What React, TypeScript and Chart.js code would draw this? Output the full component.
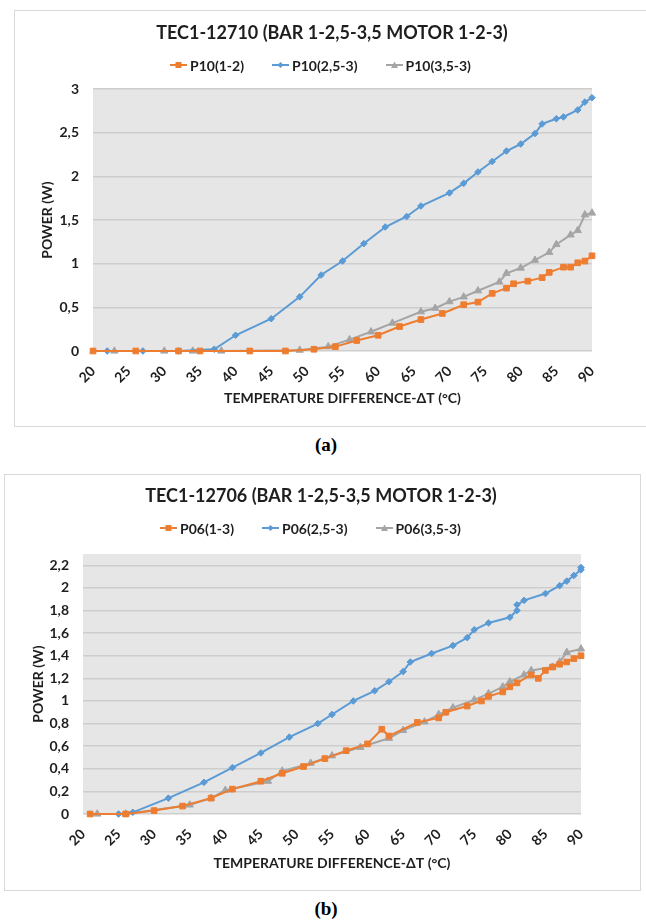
import React, { useEffect, useRef } from 'react';
import { Chart, registerables } from 'chart.js';

Chart.register(...registerables);

// ---------------- Data: chart (a) TEC1-12710 ----------------
const titleA = 'TEC1-12710 (BAR 1-2,5-3,5 MOTOR 1-2-3)';
const labelsA = ['P10(1-2)', 'P10(2,5-3)', 'P10(3,5-3)'];

const tempA1 = [20, 26, 32, 35, 42, 47, 51, 54, 57, 60, 63, 66, 69, 72, 74, 76, 78, 79, 81, 83, 84, 86, 87, 88, 89, 90];
const powA1 = [0, 0, 0, 0, 0, 0, 0.02, 0.05, 0.12, 0.18, 0.28, 0.36, 0.43, 0.53, 0.56, 0.66, 0.72, 0.77, 0.8, 0.84, 0.9, 0.96, 0.96, 1.01, 1.03, 1.09];

const tempA2 = [22, 27, 32, 37, 40, 45, 49, 52, 55, 58, 61, 64, 66, 70, 72, 74, 76, 78, 80, 82, 83, 85, 86, 88, 89, 90];
const powA2 = [0, 0, 0, 0.02, 0.18, 0.37, 0.62, 0.87, 1.03, 1.23, 1.42, 1.54, 1.66, 1.81, 1.92, 2.05, 2.17, 2.29, 2.37, 2.49, 2.6, 2.66, 2.68, 2.76, 2.85, 2.9];

const tempA3 = [23, 30, 34, 38, 49, 53, 56, 59, 62, 66, 68, 70, 72, 74, 77, 78, 80, 82, 84, 85, 87, 88, 89, 90];
const powA3 = [0, 0, 0, 0, 0.01, 0.05, 0.13, 0.22, 0.32, 0.45, 0.49, 0.565, 0.62, 0.69, 0.79, 0.89, 0.95, 1.04, 1.13, 1.22, 1.33, 1.38, 1.56, 1.58];

// ---------------- Data: chart (b) TEC1-12706 ----------------
const titleB = 'TEC1-12706 (BAR 1-2,5-3,5 MOTOR 1-2-3)';
const labelsB = ['P06(1-3)', 'P06(2,5-3)', 'P06(3,5-3)'];

const tempB1 = [21, 26, 30, 34, 38, 41, 45, 48, 51, 54, 57, 60, 62, 63, 67, 70, 71, 74, 76, 77, 79, 80, 81, 83, 84, 85, 86, 87, 88, 89, 90];
const powB1 = [0, 0, 0.03, 0.07, 0.14, 0.22, 0.29, 0.36, 0.42, 0.49, 0.56, 0.62, 0.75, 0.69, 0.81, 0.85, 0.9, 0.955, 1.0, 1.04, 1.08, 1.125, 1.16, 1.23, 1.2, 1.27, 1.3, 1.325, 1.345, 1.375, 1.4];

const tempB2 = [25, 27, 32, 37, 41, 45, 49, 53, 55, 58, 61, 63, 65, 66, 69, 72, 74, 75, 77, 80, 81, 81, 82, 85, 87, 88, 89, 90, 90];
const powB2 = [0, 0.015, 0.14, 0.28, 0.41, 0.54, 0.68, 0.8, 0.88, 1.0, 1.09, 1.17, 1.26, 1.345, 1.42, 1.49, 1.56, 1.63, 1.69, 1.74, 1.8, 1.85, 1.89, 1.95, 2.02, 2.06, 2.11, 2.16, 2.18];

const tempB3 = [22, 26, 35, 38, 40, 46, 48, 52, 55, 59, 63, 65, 68, 70, 72, 75, 77, 79, 80, 82, 83, 86, 87, 88, 90];
const powB3 = [0, 0, 0.08, 0.14, 0.21, 0.29, 0.38, 0.45, 0.515, 0.59, 0.67, 0.74, 0.815, 0.88, 0.94, 1.01, 1.065, 1.125, 1.17, 1.23, 1.27, 1.3, 1.345, 1.43, 1.46];

// ---------------- Axes ----------------
const xTitle = 'TEMPERATURE DIFFERENCE-ΔT (°C)';
const yTitle = 'POWER (W)';
const xMin = 20;
const xMax = 90;
const xStep = 5;
const yMaxA = 3;
const yStepA = 0.5;
const yMaxB = 2.3;
const yStepB = 0.2;

// ---------------- Styles ----------------
const FONT = "Lato, 'Open Sans', sans-serif";
const TEXT = '#1e1e1e';
const COLORS = ['#ED7D31', '#5B9BD5', '#A5A5A5'];
const MARKERS = ['rect', 'rectRot', 'triangle'];
const RADII = [4, 3.3, 4.2];

function buildDatasets(labels: string[], xs: number[][], ys: number[][]) {
  return labels.map((label, i) => ({
    label,
    data: xs[i].map((x, j) => ({ x, y: ys[i][j] })),
    borderColor: COLORS[i],
    backgroundColor: COLORS[i],
    borderWidth: 2,
    pointStyle: MARKERS[i],
    pointRadius: RADII[i],
    pointBorderWidth: 1,
    pointBorderColor: COLORS[i],
    pointBackgroundColor: COLORS[i],
    tension: 0,
    fill: false,
    clip: false,
  }));
}

const plotBg = {
  id: 'plotBg',
  beforeDraw(chart: any) {
    const { ctx, chartArea } = chart;
    if (!chartArea) return;
    ctx.save();
    ctx.fillStyle = '#e6e6e6';
    ctx.fillRect(chartArea.left, chartArea.top, chartArea.right - chartArea.left, chartArea.bottom - chartArea.top);
    ctx.restore();
  },
};

const fmt = (v: number) => String(Math.round(v * 10) / 10).replace('.', ',');

type PanelCfg = {
  left: number; top: number; w: number; h: number;
  padRight: number; padTop: number;
  xH: number; xTitleBottom: number; yTitleTop: number;
  yMax: number; yStep: number;
  title: string; titleCx: number; titleCy: number;
  labels: string[]; xs: number[][]; ys: number[][];
  legendLeft: number; legendCy: number;
};

function LegendIcon({ i }: { i: number }) {
  const c = COLORS[i];
  let marker: React.ReactNode;
  if (i === 0) marker = <rect x={5.5} y={2} width={6} height={6} fill={c} />;
  else if (i === 1) marker = <polygon points="8.5,2 11.5,5 8.5,8 5.5,5" fill={c} />;
  else marker = <polygon points="8.5,1.5 12,8 5,8" fill={c} />;
  return (
    <svg width={17} height={10} style={{ display: 'block' }}>
      <line x1={0} y1={5} x2={17} y2={5} stroke={c} strokeWidth={2} />
      {marker}
    </svg>
  );
}

function Panel({ cfg }: { cfg: PanelCfg }) {
  const ref = useRef<HTMLCanvasElement>(null);
  useEffect(() => {
    const chart = new Chart(ref.current as HTMLCanvasElement, {
      type: 'line',
      data: { datasets: buildDatasets(cfg.labels, cfg.xs, cfg.ys) as any },
      options: {
        responsive: false,
        animation: false,
        layout: { padding: { top: cfg.padTop, left: 0, right: cfg.padRight, bottom: 0 } },
        plugins: {
          legend: { display: false },
          tooltip: { enabled: false },
          title: { display: false },
        },
        scales: {
          x: {
            type: 'linear',
            min: xMin,
            max: xMax,
            ticks: {
              stepSize: xStep,
              autoSkip: false,
              maxRotation: 45,
              minRotation: 45,
              color: TEXT,
              font: { family: FONT, size: 14, weight: 'bold' },
              padding: 4,
            },
            grid: { display: false },
            border: { display: false },
            title: {
              display: true,
              text: xTitle,
              color: TEXT,
              font: { family: FONT, size: 14, weight: 'bold' },
              padding: { top: 0, bottom: cfg.xTitleBottom },
            },
            afterFit: (s: any) => { s.height = cfg.xH; },
          },
          y: {
            min: 0,
            max: cfg.yMax,
            ticks: {
              stepSize: cfg.yStep,
              includeBounds: false,
              color: TEXT,
              font: { family: FONT, size: 14, weight: 'bold' },
              padding: 14,
              callback: (v: any) => fmt(Number(v)),
            },
            grid: { color: '#cdcdcd', lineWidth: 1.5, drawTicks: false },
            border: { display: false },
            title: {
              display: true,
              text: yTitle,
              color: TEXT,
              font: { family: FONT, size: 14, weight: 'bold' },
              padding: { top: cfg.yTitleTop, bottom: 0 },
            },
            afterFit: (s: any) => { s.width = 78; },
          },
        },
      } as any,
      plugins: [plotBg],
    });
    return () => chart.destroy();
  }, []);

  return (
    <div
      style={{
        position: 'absolute', left: cfg.left, top: cfg.top, width: cfg.w, height: cfg.h,
        border: '1px solid #d9d9d9', boxSizing: 'border-box', background: '#fff',
      }}
    >
      <canvas
        ref={ref}
        width={cfg.w - 2}
        height={cfg.h - 2}
        style={{ position: 'absolute', left: 0, top: 0, width: cfg.w - 2, height: cfg.h - 2 }}
      />
      <div
        style={{
          position: 'absolute', left: cfg.titleCx - 300, width: 600, top: cfg.titleCy - 12, height: 24,
          lineHeight: '24px', textAlign: 'center', whiteSpace: 'nowrap',
          fontFamily: FONT, fontWeight: 700, fontSize: 18, color: TEXT,
        }}
      >
        {cfg.title}
      </div>
      <div
        style={{
          position: 'absolute', left: cfg.legendLeft, top: cfg.legendCy - 10, height: 20,
          display: 'flex', alignItems: 'center', whiteSpace: 'nowrap',
          fontFamily: FONT, fontWeight: 700, fontSize: 14, color: TEXT,
        }}
      >
        {cfg.labels.map((l, i) => (
          <div key={l} style={{ display: 'flex', alignItems: 'center', marginRight: 28 }}>
            <LegendIcon i={i} />
            <span style={{ marginLeft: 3 }}>{l}</span>
          </div>
        ))}
      </div>
    </div>
  );
}

const cfgA: PanelCfg = {
  left: 14, top: 10, w: 642, h: 417,
  padRight: 63, padTop: 78,
  xH: 75, xTitleBottom: 19.6, yTitleTop: 23.6,
  yMax: yMaxA, yStep: yStepA,
  title: titleA, titleCx: 317, titleCy: 21,
  labels: labelsA,
  xs: [tempA1, tempA2, tempA3], ys: [powA1, powA2, powA3],
  legendLeft: 155, legendCy: 54,
};

const cfgB: PanelCfg = {
  left: 4, top: 474, w: 637, h: 417,
  padRight: 59, padTop: 79,
  xH: 76, xTitleBottom: 18.6, yTitleTop: 24.6,
  yMax: yMaxB, yStep: yStepB,
  title: titleB, titleCx: 316, titleCy: 20,
  labels: labelsB,
  xs: [tempB1, tempB2, tempB3], ys: [powB1, powB2, powB3],
  legendLeft: 155, legendCy: 53,
};

const captionStyle: React.CSSProperties = {
  position: 'absolute', left: 0, width: 652, height: 24, lineHeight: '24px', textAlign: 'center',
  fontFamily: "'Liberation Serif', 'Times New Roman', serif", fontWeight: 700, fontSize: 19, color: '#000',
};

export default function App() {
  return (
    <div style={{ position: 'absolute', left: 0, top: 0, width: 646, height: 920, overflow: 'hidden', background: '#fff' }}>
      <Panel cfg={cfgA} />
      <div style={{ ...captionStyle, top: 433 }}>(a)</div>
      <Panel cfg={cfgB} />
      <div style={{ ...captionStyle, top: 897 }}>(b)</div>
    </div>
  );
}
